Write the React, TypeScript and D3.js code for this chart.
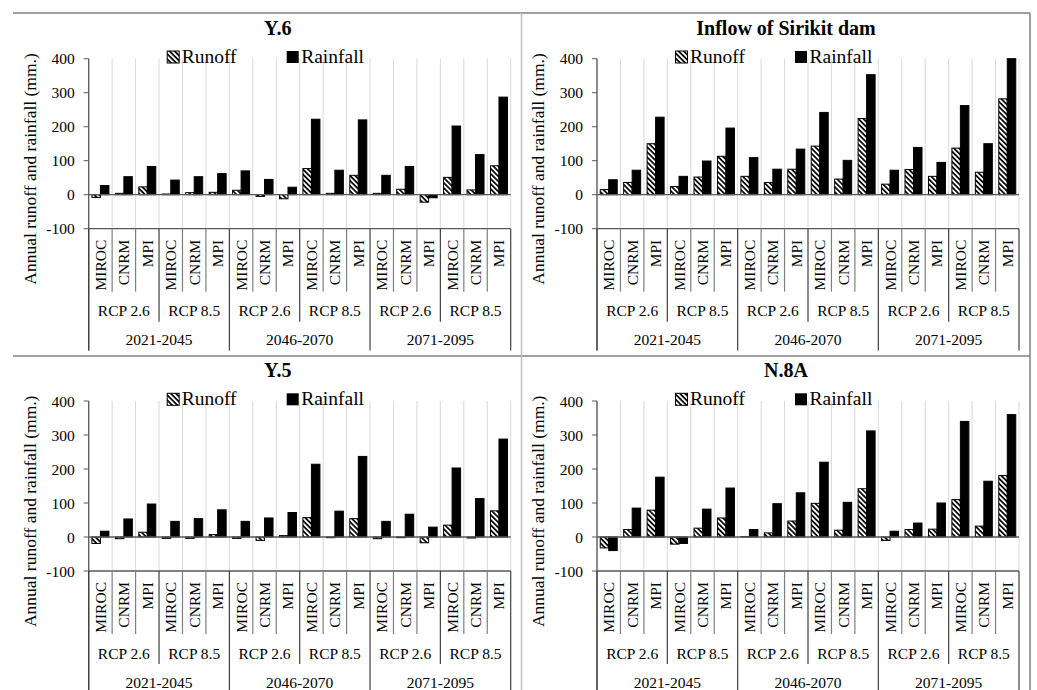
import React from "react";
import * as d3 from "d3";

// Category hierarchy (bottom to top of the multi-level axis)
const MODELS = ["MIROC", "CNRM", "MPI"];
const SCENARIOS = ["RCP 2.6", "RCP 8.5"];
const PERIODS = ["2021-2045", "2046-2070", "2071-2095"];
const Y_TICKS = [-100, 0, 100, 200, 300, 400];

// Annual runoff / rainfall change (mm.), 18 categories: period > scenario > model
const y6Runoff = [-8, 4, 23, 2, 6, 7, 13, -5, -12, 77, 4, 57, 4, 16, -22, 51, 14, 85];
const y6Rainfall = [27, 53, 83, 43, 53, 62, 70, 45, 22, 222, 72, 220, 57, 83, -9, 202, 118, 287];
const sirikitRunoff = [15, 36, 150, 24, 52, 113, 54, 36, 75, 143, 46, 224, 31, 74, 54, 137, 66, 282];
const sirikitRainfall = [44, 72, 228, 54, 99, 196, 109, 75, 134, 242, 101, 353, 72, 139, 95, 262, 150, 400];
const y5Runoff = [-19, -5, 14, -4, -4, 7, -4, -10, 4, 57, -2, 54, -5, -2, -17, 35, -3, 77];
const y5Rainfall = [17, 53, 97, 46, 54, 80, 46, 56, 72, 214, 76, 237, 46, 67, 29, 203, 113, 288];
const n8aRunoff = [-32, 22, 79, -21, 26, 56, 1, 12, 47, 99, 20, 142, -10, 22, 23, 110, 32, 181];
const n8aRainfall = [-40, 85, 176, -19, 82, 144, 22, 98, 130, 220, 102, 312, 17, 41, 100, 340, 164, 360];

const SERIES = ["Runoff", "Rainfall"];
const FONT = "'Liberation Serif', 'Times New Roman', serif";
const AXIS = "#595959";
const GRID = "#d9d9d9";

type PanelProps = {
  title: string;
  runoff: number[];
  rainfall: number[];
  x0: number;
  dy: number;
  labelBottom: number;
};

function Panel({ title, runoff, rainfall, x0, dy, labelBottom }: PanelProps) {
  const plotW = 422;
  const x1 = x0 + plotW;
  const yTop = 58.7 + dy;
  const yBot = 228.7 + dy;

  const categories = PERIODS.flatMap((p) =>
    SCENARIOS.flatMap((s) => MODELS.map((m) => ({ p, s, m })))
  );
  const idx = categories.map((_, i) => i);

  const x = d3.scaleBand<number>().domain(idx).range([x0, x1]).padding(0);
  const inner = d3
    .scaleBand<string>()
    .domain(SERIES)
    .range([0, x.bandwidth()])
    .paddingInner(0)
    .paddingOuter(0.38);
  const y = d3.scaleLinear().domain([-100, 400]).range([yBot, yTop]);
  const w = x.bandwidth();

  const bar = (v: number, i: number, key: string) => {
    const top = y(Math.max(0, v));
    const h = Math.abs(y(v) - y(0));
    return (
      <rect
        key={key + i}
        x={(x(i) as number) + (inner(key) as number)}
        y={top}
        width={inner.bandwidth()}
        height={h}
        fill={key === "Runoff" ? "url(#hatch)" : "#000"}
        stroke="#000"
        strokeWidth={1}
      />
    );
  };

  const seps: React.ReactNode[] = [];
  for (let i = 0; i <= categories.length; i++) {
    const xx = x0 + i * w;
    let end: number;
    let color = "#404040";
    if (i % 6 === 0) end = labelBottom;
    else if (i % 3 === 0) end = yBot + 93;
    else {
      end = yBot + 63;
      color = "#7f7f7f";
    }
    seps.push(
      <line key={"s" + i} x1={xx} x2={xx} y1={yBot} y2={end} stroke={color} strokeWidth={1.2} />
    );
  }

  return (
    <g fontFamily={FONT}>
      <text x={x0 + 189} y={35 + dy} textAnchor="middle" fontWeight="bold" fontSize={20}>
        {title}
      </text>

      {/* vertical gridlines at category boundaries */}
      {idx.concat([categories.length]).map((i) => (
        <line key={"g" + i} x1={x0 + i * w} x2={x0 + i * w} y1={yTop} y2={yBot} stroke={GRID} strokeWidth={1} />
      ))}

      {/* legend */}
      <rect x={x0 + 78.5} y={51 + dy} width={12} height={12} fill="url(#hatch)" stroke="#000" strokeWidth={1} />
      <text x={x0 + 93} y={63 + dy} fontSize={19.5}>Runoff</text>
      <rect x={x0 + 198} y={51 + dy} width={12} height={12} fill="#000" />
      <text x={x0 + 212.5} y={63 + dy} fontSize={19.5}>Rainfall</text>

      {/* bars */}
      {runoff.map((v, i) => bar(v, i, "Runoff"))}
      {rainfall.map((v, i) => bar(v, i, "Rainfall"))}

      {/* axes */}
      <line x1={x0} x2={x1} y1={y(0)} y2={y(0)} stroke={AXIS} strokeWidth={1.3} />
      <line x1={x0} x2={x1} y1={yBot} y2={yBot} stroke={AXIS} strokeWidth={1.3} />
      <line x1={x0} x2={x0} y1={yTop} y2={labelBottom} stroke={AXIS} strokeWidth={1.3} />
      {Y_TICKS.map((t) => (
        <g key={"t" + t}>
          <line x1={x0 - 5} x2={x0} y1={y(t)} y2={y(t)} stroke={AXIS} strokeWidth={1} />
          <text x={x0 - 14} y={y(t)} textAnchor="end" dominantBaseline="central" fontSize={15.5}>
            {t}
          </text>
        </g>
      ))}
      <text
        transform={`translate(${x0 - 58.7},${169 + dy}) rotate(-90)`}
        textAnchor="middle"
        dominantBaseline="central"
        fontSize={17.5}
      >
        Annual runoff and rainfall (mm.)
      </text>

      {/* multi-level category labels */}
      {seps}
      {categories.map((c, i) => (
        <text
          key={"m" + i}
          transform={`translate(${(x(i) as number) + w / 2},${yBot + 11}) rotate(-90)`}
          textAnchor="end"
          dominantBaseline="central"
          fontSize={15.5}
        >
          {c.m}
        </text>
      ))}
      {PERIODS.flatMap((p, pi) =>
        SCENARIOS.map((s, si) => (
          <text
            key={"r" + pi + si}
            x={x0 + (pi * 6 + si * 3 + 1.5) * w}
            y={yBot + 82}
            textAnchor="middle"
            dominantBaseline="central"
            fontSize={15.5}
          >
            {s}
          </text>
        ))
      )}
      {PERIODS.map((p, pi) => (
        <text
          key={"p" + pi}
          x={x0 + (pi * 6 + 3) * w}
          y={yBot + 111}
          textAnchor="middle"
          dominantBaseline="central"
          fontSize={15.5}
        >
          {p}
        </text>
      ))}
    </g>
  );
}

export default function App() {
  return (
    <svg
      width={1037}
      height={690}
      style={{ position: "absolute", left: 0, top: 0, background: "#fff" }}
    >
      <defs>
        <pattern id="hatch" patternUnits="userSpaceOnUse" width={3.6} height={3.6} patternTransform="rotate(-45)">
          <rect width={3.6} height={3.6} fill="#fff" />
          <line x1={0.9} y1={0} x2={0.9} y2={3.6} stroke="#000" strokeWidth={1.7} />
        </pattern>
      </defs>
      <rect width={1037} height={690} fill="#fff" />

      <Panel title="Y.6" runoff={y6Runoff} rainfall={y6Rainfall} x0={88.7} dy={0} labelBottom={350.5} />
      <Panel title="Inflow of Sirikit dam" runoff={sirikitRunoff} rainfall={sirikitRainfall} x0={597} dy={0} labelBottom={350.5} />
      <Panel title="Y.5" runoff={y5Runoff} rainfall={y5Rainfall} x0={88.7} dy={342.3} labelBottom={690} />
      <Panel title="N.8A" runoff={n8aRunoff} rainfall={n8aRainfall} x0={597} dy={342.3} labelBottom={690} />

      {/* panel frame */}
      <line x1={13} x2={1030} y1={13} y2={13} stroke="#808080" strokeWidth={1.5} />
      <line x1={13} x2={1030} y1={356} y2={356} stroke="#808080" strokeWidth={1.5} />
      <line x1={521.5} x2={521.5} y1={13} y2={690} stroke="#bfbfbf" strokeWidth={1.5} />
      <line x1={1030} x2={1030} y1={13} y2={690} stroke="#808080" strokeWidth={1.5} />
    </svg>
  );
}
